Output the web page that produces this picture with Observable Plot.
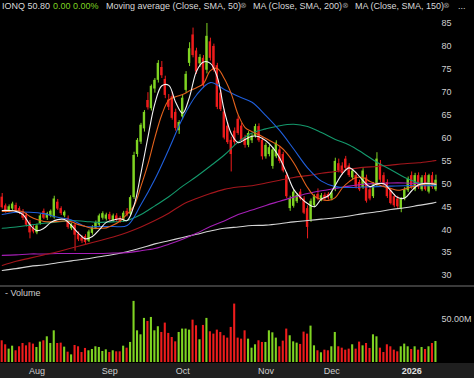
<!DOCTYPE html>
<html><head><meta charset="utf-8">
<script src="https://cdn.jsdelivr.net/npm/d3@7"></script>
<script src="https://cdn.jsdelivr.net/npm/@observablehq/plot@0.6"></script>
<style>
html,body{margin:0;padding:0;background:#000;}
#wrap{position:relative;width:474px;height:378px;overflow:hidden;background:#000;font-family:"Liberation Sans",Arial,sans-serif;}
.t{position:absolute;top:0;line-height:12px;font-size:9px;color:#d8d8d8;white-space:nowrap;}
.ic{position:absolute;top:0;line-height:12px;font-size:8px;color:#8a8a8a;}
#price,#vol{position:absolute;left:0;}
#price{top:0;} #vol{top:287px;}
#sep{position:absolute;left:0;top:285px;width:474px;height:2px;background:#3a3a3a;}
#xstrip{position:absolute;left:0;top:363px;width:474px;height:15px;background:#1f1f1f;}
#vlab{position:absolute;left:5px;top:288px;font-size:9px;line-height:10px;color:#cfcfcf;}
</style></head>
<body><div id="wrap">
<div id="xstrip"></div>
<div id="price"></div>
<div id="sep"></div>
<div id="vol"></div>
<div id="vlab">- Volume</div>
<span class="t" style="left:2px">IONQ 50.80</span>
<span class="t" style="left:53px;color:#7ed321">0.00 0.00%</span>
<span class="t" style="left:106px">Moving average (Close, SMA, 50)</span>
<span class="ic" style="left:240px">⊗</span>
<span class="t" style="left:253px">MA (Close, SMA, 200)</span>
<span class="ic" style="left:342px">⊗</span>
<span class="t" style="left:355px">MA (Close, SMA, 150)</span>
<span class="ic" style="left:443px">⊗</span>
<span class="t" style="left:458px">...</span>
</div>
<script>
const open  = [47.1,45.2,44.0,44.5,45.3,44.6,44.0,43.2,41.5,40.4,39.3,41.3,44.0,42.5,43.0,42.6,46.0,44.6,43.0,42.5,40.2,41.0,39.0,38.2,38.5,37.5,39.2,40.3,41.0,42.5,42.3,43.3,42.0,43.0,42.5,42.0,44.0,43.4,47.0,56.4,59.1,62.0,68.2,66.4,70.7,72.6,75.4,72.8,68.3,69.0,65.6,61.6,64.6,70.4,76.3,82.5,79.0,76.2,77.4,74.8,81.0,80.0,75.8,69.8,65.7,62.6,59.5,61.5,64.1,62.6,60.0,58.4,59.4,60.4,62.5,59.5,55.9,56.4,53.8,55.9,57.4,56.4,51.8,44.6,45.1,46.1,48.2,46.7,44.6,42.1,45.2,47.7,46.5,47.5,47.7,46.7,48.7,54.4,53.9,55.4,53.9,51.3,51.8,50.3,49.2,51.3,48.7,47.2,49.8,54.4,51.8,50.3,48.5,47.2,46.7,44.5,46.7,48.5,51.8,48.7,51.8,48.7,51.8,48.2,51.8,48.7];
const high  = [47.9,45.6,45.4,46.0,45.8,45.0,44.4,43.6,42.0,40.9,41.2,43.4,44.5,43.8,44.3,47.3,46.6,45.0,44.1,43.0,41.4,41.3,39.5,38.7,38.9,39.9,40.9,41.9,43.4,43.9,43.6,43.8,43.4,43.5,42.9,44.0,44.6,47.4,56.9,59.9,63.2,66.0,69.9,71.6,73.0,76.9,76.7,73.5,69.5,70.0,66.3,63.8,69.3,74.5,80.8,84.0,79.6,78.2,78.0,85.0,81.8,80.5,76.3,70.4,66.3,63.3,60.2,62.2,64.8,63.2,60.6,61.4,60.9,63.0,63.1,60.0,58.9,58.4,57.9,59.4,58.0,56.9,52.4,47.3,48.6,47.9,48.8,47.2,45.2,46.7,47.6,48.9,47.9,48.0,48.1,48.4,55.6,55.4,54.6,56.0,54.4,53.3,52.4,50.8,53.3,51.9,49.3,50.3,56.8,55.1,52.4,50.9,49.0,47.7,47.3,47.0,49.2,51.5,52.6,52.3,52.4,51.8,52.4,52.1,52.5,51.9];
const low   = [44.5,43.6,43.7,44.2,43.9,43.3,42.0,40.6,38.0,39.1,38.9,41.0,42.2,42.0,42.6,42.3,44.2,43.1,42.6,40.1,39.8,35.3,37.4,37.0,36.8,37.2,38.8,40.0,40.7,42.1,41.9,41.8,41.6,41.6,41.4,41.6,42.8,43.0,46.6,55.8,58.6,61.3,66.1,65.9,69.8,72.0,73.0,68.6,66.0,63.9,61.5,60.8,64.0,69.8,75.6,77.5,73.9,75.4,70.9,74.0,76.8,74.4,66.2,65.8,59.6,58.6,52.6,58.4,60.6,59.1,57.8,57.9,58.8,60.0,59.0,55.2,55.4,55.9,53.2,55.5,54.4,52.4,46.8,44.0,44.7,45.7,46.3,43.3,38.0,41.6,44.8,46.3,46.1,46.3,46.5,46.3,48.3,52.4,51.9,53.0,51.4,50.9,48.9,48.3,48.8,45.8,46.3,46.8,49.3,50.3,49.3,46.8,45.4,44.8,44.6,43.7,46.3,48.1,48.8,48.3,48.8,48.3,48.4,47.8,48.8,48.3];
const close = [44.8,44.0,45.0,45.6,44.2,43.8,42.5,41.0,39.3,39.5,40.8,43.0,42.5,43.5,44.0,46.7,44.5,43.5,43.8,40.5,41.0,38.8,37.8,37.5,37.2,39.5,40.5,41.5,43.0,43.5,43.2,42.2,43.0,42.0,41.8,43.6,43.2,47.0,56.2,59.5,62.8,65.6,66.6,71.3,72.6,76.3,73.6,69.3,66.7,64.3,62.1,63.4,68.7,73.9,79.5,78.0,74.4,77.6,71.4,82.2,77.4,74.9,66.7,66.2,60.0,59.0,56.4,59.0,61.0,59.5,58.4,61.0,60.4,62.5,59.4,55.9,58.4,57.9,57.4,58.9,54.9,52.8,47.2,46.7,48.2,47.5,46.7,43.6,40.5,46.2,47.2,46.7,47.4,46.7,46.9,48.0,54.9,52.8,52.3,53.4,51.8,52.8,49.3,48.7,52.8,46.2,46.7,49.8,55.4,50.8,49.8,47.2,45.7,45.2,45.0,46.7,48.7,51.0,49.2,51.8,49.2,51.3,48.7,51.8,49.2,50.8];
const volumeM = [25.0,20.4,15.4,18.8,13.5,18.1,21.9,19.2,22.7,21.2,17.3,23.5,25.0,29.6,21.9,36.5,21.9,22.3,17.7,11.9,8.8,19.6,18.1,11.5,16.2,13.5,15.0,18.1,17.3,12.7,14.6,11.5,13.5,12.3,12.3,18.8,16.5,23.1,70.4,36.5,31.9,50.8,47.3,51.9,36.5,41.2,34.6,45.4,33.5,28.8,23.8,34.6,38.5,38.5,37.3,48.8,42.3,26.2,42.7,50.8,35.4,32.7,37.3,34.6,30.8,28.1,40.4,67.3,28.1,26.9,36.5,26.9,16.5,20.4,25.0,23.1,23.1,36.5,34.2,28.1,18.1,24.6,38.5,30.8,23.8,22.3,20.8,35.0,32.7,41.9,19.2,13.5,11.2,14.2,13.5,18.1,34.6,18.1,16.5,14.2,15.4,20.4,15.4,23.5,19.2,21.9,16.2,31.9,29.6,16.5,11.5,20.4,18.1,14.2,12.3,18.1,21.2,18.1,15.0,18.1,14.2,17.3,15.0,18.1,21.9,24.2];

// moving-average lines (sample bar index -> value)
const maShortIdx = d3.range(0, 125, 2).concat([125]);
const maLongIdx = d3.range(0, 125, 4).concat([125]);
const maWhite  = [44.2,44.2,44.0,43.3,41.1,39.8,40.3,41.6,42.2,42.2,40.9,39.2,38.0,38.5,40.0,41.6,42.1,42.4,42.0,45.3,52.4,60.2,67.5,71.4,71.5,67.8,65.4,69.0,74.6,76.6,76.3,73.3,66.0,61.0,59.0,59.7,60.4,60.3,59.4,57.9,55.6,52.3,48.8,47.0,45.7,45.0,46.7,47.4,49.7,52.2,53.5,52.4,50.7,49.4,50.0,50.0,48.5,47.0,46.9,48.5,49.8,50.1,50.0,49.9];
const maOrange = [44.0,44.0,44.2,43.9,42.9,42.2,41.8,41.7,41.8,41.9,41.7,41.1,40.7,40.3,40.3,40.4,41.0,41.9,43.4,45.2,49.5,54.3,60.1,65.1,68.3,69.0,69.5,70.3,71.0,71.9,74.7,75.2,73.0,69.7,65.1,62.3,61.4,60.7,59.9,59.1,58.2,56.7,54.6,51.9,49.2,47.3,46.6,46.4,47.0,49.1,50.5,51.4,51.4,50.5,49.9,49.4,49.0,48.6,48.9,49.3,49.7,50.0,50.1,50.1];
const maBlue   = [43.3,43.8,43.8,43.5,42.7,42.1,40.7,40.7,40.7,40.9,45.5,51.0,57.5,64.3,69.4,72.1,70.6,69.1,67.8,64.9,61.6,57.6,53.5,50.6,49.4,49.2,49.3,49.4,49.5,49.6,49.6,49.6,49.6];
const maGreen  = [40.3,40.6,41.0,41.4,41.7,42.0,41.8,41.6,41.7,42.0,43.3,45.2,47.2,49.5,51.6,53.9,56.3,59.1,61.1,62.0,62.7,63.0,62.5,61.2,59.7,58.5,56.7,54.7,53.1,51.4,50.2,49.7,49.6];
const maRed    = [32.2,33.1,33.8,34.5,35.2,36.0,36.8,37.6,38.4,39.4,40.6,42.0,43.6,45.5,46.8,47.9,48.8,49.3,49.6,50.2,50.8,51.4,51.8,52.3,52.7,53.2,53.6,53.8,54.1,54.4,54.6,55.0,55.1];
const maPurple = [34.4,34.5,34.7,34.7,34.8,34.8,34.8,34.8,34.9,35.0,35.4,35.9,36.8,37.9,39.2,40.7,41.9,43.3,44.3,45.3,46.2,47.1,47.9,48.5,49.0,49.5,49.9,50.1,50.2,50.2,50.1,50.1,50.0];
const maGray   = [31.1,31.5,32.0,32.3,32.8,33.2,33.6,34.1,34.6,35.2,36.0,36.9,37.6,38.3,39.0,39.7,40.3,40.6,40.9,41.0,41.3,41.7,42.0,42.3,42.6,43.0,43.5,43.9,44.4,44.8,45.3,45.8,46.0];

const priceTicks = [30,35,40,45,50,55,60,65,70,75,80,85];
const monthTickIdx = [10, 31, 52, 76, 95];
const monthTickLabels = ["Aug","Sep","Oct","Nov","Dec"];
const yearTickIdx = [118];
const yearTickLabels = ["2026"];
const volTicks = [50];
const volTickLabels = ["50.00M"];

const UP = "#7fd322", DOWN = "#ee1c1c";
const rows = close.map((c, i) => ({i, o: open[i], h: high[i], l: low[i], c, v: volumeM[i]}));
const col = d => d.c >= d.o ? UP : DOWN;
const xScale = {type: "linear", domain: [-0.49, 125.45]};
const mk = (idx, vals) => idx.map((i, k) => ({i, v: vals[k]}));
const maSpecs = [
  [maGray, "#d4d4d4", maLongIdx],
  [maPurple, "#a51fb5", maLongIdx],
  [maRed, "#a3161c", maLongIdx],
  [maGreen, "#14996c", maLongIdx],
  [maBlue, "#1f5fdc", maLongIdx],
  [maOrange, "#e4621c", maShortIdx],
  [maWhite, "#f4f4f4", maShortIdx]
];

const price = Plot.plot({
  width: 474, height: 286,
  marginLeft: 0, marginRight: 37, marginTop: 0, marginBottom: 0,
  style: {background: "transparent", color: "#cfcfcf", fontSize: "9px", fontFamily: "Liberation Sans, Arial, sans-serif"},
  x: {...xScale, axis: null},
  y: {domain: [27.6, 90.02], axis: null},
  marks: [
    Plot.ruleX(rows, {x: "i", y1: "l", y2: "h", stroke: col, strokeWidth: 1, clip: true}),
    Plot.rect(rows, {x1: d => d.i - 0.34, x2: d => d.i + 0.34, y1: "o", y2: "c", fill: col, clip: true}),
    ...maSpecs.map(([vals, color, idx]) =>
      Plot.line(mk(idx, vals), {x: "i", y: "v", stroke: color, strokeWidth: 1.1, curve: "catmull-rom", clip: true})),
    Plot.axisY({anchor: "right", ticks: priceTicks, tickSize: 0, tickPadding: 4, label: null, fill: "#cfcfcf", fontSize: 9})
  ]
});
document.getElementById("price").appendChild(price);

const vol = Plot.plot({
  width: 474, height: 91,
  marginLeft: 0, marginRight: 37, marginTop: 0, marginBottom: 16,
  style: {background: "transparent", color: "#cfcfcf", fontSize: "9px", fontFamily: "Liberation Sans, Arial, sans-serif"},
  x: {...xScale, axis: null},
  y: {domain: [0, 86.4], axis: null},
  marks: [
    Plot.rect(rows, {x1: d => d.i - 0.3, x2: d => d.i + 0.3, y1: 0, y2: "v", fill: col}),
    Plot.axisY({anchor: "right", ticks: volTicks, tickFormat: (d, k) => volTickLabels[k], tickSize: 0, tickPadding: 4, label: null, fill: "#cfcfcf", fontSize: 9}),
    Plot.axisX({ticks: monthTickIdx, tickFormat: (d, k) => monthTickLabels[k], tickSize: 0, tickPadding: 5, label: null, fill: "#cfcfcf", fontSize: 9}),
    Plot.axisX({ticks: yearTickIdx, tickFormat: (d, k) => yearTickLabels[k], tickSize: 0, tickPadding: 5, label: null, fill: "#e0e0e0", fontSize: 9, fontWeight: "bold"})
  ]
});
document.getElementById("vol").appendChild(vol);
</script>
</body></html>
